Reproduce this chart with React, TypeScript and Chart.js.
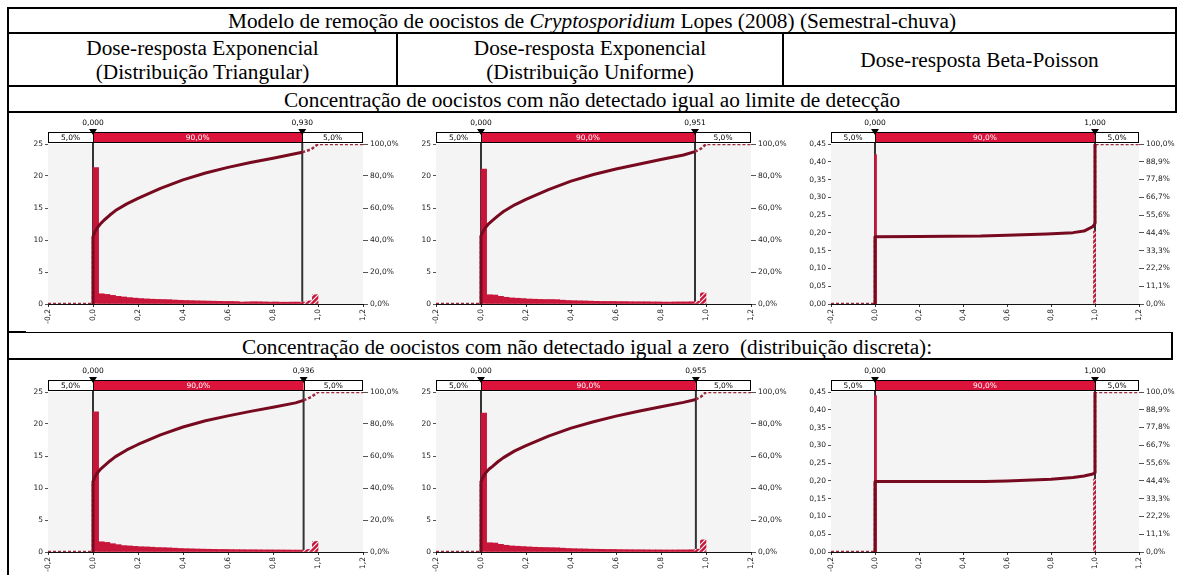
import React, { useEffect, useRef } from 'react';
import { Chart, registerables } from 'chart.js';

Chart.register(...registerables);

// ---------- shared axis values ----------
const X_TICKS = [-0.2, 0, 0.2, 0.4, 0.6, 0.8, 1.0, 1.2];
const Y_TICKS_EXP = [0, 5, 10, 15, 20, 25];
const Y2_TICKS_EXP = [0, 20, 40, 60, 80, 100];
const Y_TICKS_BP = [0, 0.05, 0.1, 0.15, 0.2, 0.25, 0.3, 0.35, 0.4, 0.45];
const Y2_TICKS_BP = [0, 11.1, 22.2, 33.3, 44.4, 55.6, 66.7, 77.8, 88.9, 100];

// histogram bin centres (bin width 0.025)
const BIN_X = [
  0.0125, 0.0375, 0.0625, 0.0875, 0.1125, 0.1375, 0.1625, 0.1875, 0.2125, 0.2375,
  0.2625, 0.2875, 0.3125, 0.3375, 0.3625, 0.3875, 0.4125, 0.4375, 0.4625, 0.4875,
  0.5125, 0.5375, 0.5625, 0.5875, 0.6125, 0.6375, 0.6625, 0.6875, 0.7125, 0.7375,
  0.7625, 0.7875, 0.8125, 0.8375, 0.8625, 0.8875, 0.9125, 0.9375, 0.9625, 0.9875,
];
const BIN_X_BP = [0.0025, 0.9975];

// ---------- histogram values ----------
const HIST_TRI_LD = [
  21.3, 1.6, 1.5, 1.35, 1.2, 1.1, 1.0, 0.92, 0.85, 0.8,
  0.75, 0.72, 0.7, 0.68, 0.62, 0.58, 0.55, 0.53, 0.5, 0.48,
  0.46, 0.44, 0.42, 0.4, 0.4, 0.38, 0.3, 0.33, 0.36, 0.35,
  0.33, 0.3, 0.32, 0.28, 0.28, 0.3, 0.3, 0.3, 0.5, 1.45,
];
const HIST_UNI_LD = [
  21.1, 1.45, 1.4, 1.2, 1.05, 0.95, 0.9, 0.85, 0.78, 0.75,
  0.72, 0.7, 0.7, 0.68, 0.6, 0.55, 0.52, 0.5, 0.48, 0.45,
  0.42, 0.4, 0.4, 0.4, 0.38, 0.38, 0.36, 0.35, 0.35, 0.35,
  0.33, 0.33, 0.3, 0.3, 0.32, 0.33, 0.33, 0.35, 0.45, 1.75,
];
const HIST_BP_LD = [0.42, 0.205];
const HIST_TRI_ZERO = [
  21.9, 1.6, 1.5, 1.3, 1.15, 1.0, 0.95, 0.88, 0.82, 0.8,
  0.75, 0.7, 0.68, 0.65, 0.6, 0.55, 0.52, 0.5, 0.47, 0.45,
  0.43, 0.42, 0.4, 0.4, 0.38, 0.37, 0.36, 0.35, 0.35, 0.34,
  0.33, 0.33, 0.32, 0.32, 0.31, 0.3, 0.3, 0.3, 0.4, 1.65,
];
const HIST_UNI_ZERO = [
  21.7, 1.45, 1.4, 1.2, 1.05, 0.95, 0.9, 0.85, 0.8, 0.75,
  0.72, 0.7, 0.68, 0.66, 0.6, 0.55, 0.52, 0.5, 0.48, 0.45,
  0.43, 0.42, 0.4, 0.4, 0.38, 0.37, 0.36, 0.35, 0.35, 0.34,
  0.33, 0.33, 0.32, 0.32, 0.32, 0.33, 0.33, 0.35, 0.45, 1.9,
];
const HIST_BP_ZERO = [0.44, 0.205];

// ---------- cumulative curves (percent) ----------
const CUM_TRI_LD_X = [-0.2, 0, 0, 0.01, 0.02, 0.035, 0.05, 0.075, 0.1, 0.15, 0.2, 0.3, 0.4, 0.5, 0.6, 0.7, 0.8, 0.93, 0.97, 1.0, 1.2];
const CUM_TRI_LD_Y = [0, 0, 42, 45.5, 47.8, 50.4, 52.5, 55.6, 58.4, 62.6, 66, 72.3, 77.6, 81.9, 85.4, 88.4, 91.1, 94.8, 96.7, 100, 100];
const CUM_UNI_LD_X = [-0.2, 0, 0, 0.01, 0.02, 0.035, 0.05, 0.075, 0.1, 0.15, 0.2, 0.3, 0.4, 0.5, 0.6, 0.7, 0.8, 0.9, 0.951, 0.98, 1.0, 1.2];
const CUM_UNI_LD_Y = [0, 0, 42.5, 45.6, 47.8, 50.3, 52.1, 55.1, 57.8, 62, 65.4, 71.5, 76.8, 80.9, 84.4, 87.4, 90.3, 93.1, 95.2, 97.3, 100, 100];
const CUM_BP_LD_X = [-0.2, 0, 0, 0.2, 0.48, 0.6, 0.78, 0.9, 0.95, 0.99, 1.0, 1.0, 1.2];
const CUM_BP_LD_Y = [0, 0, 42.1, 42.2, 42.5, 43, 43.75, 44.6, 45.6, 48.3, 50.4, 100, 100];
const CUM_TRI_ZERO_X = [-0.2, 0, 0, 0.01, 0.02, 0.035, 0.05, 0.075, 0.1, 0.15, 0.2, 0.3, 0.4, 0.5, 0.6, 0.7, 0.8, 0.9, 0.936, 0.97, 1.0, 1.2];
const CUM_TRI_ZERO_Y = [0, 0, 44, 47.3, 49.6, 52, 53.8, 56.9, 59.6, 63.8, 67.2, 73.2, 78.1, 82, 85.1, 87.9, 90.5, 93.2, 94.8, 96.9, 100, 100];
const CUM_UNI_ZERO_X = [-0.2, 0, 0, 0.01, 0.02, 0.035, 0.05, 0.075, 0.1, 0.15, 0.2, 0.3, 0.4, 0.5, 0.6, 0.7, 0.8, 0.9, 0.955, 0.98, 1.0, 1.2];
const CUM_UNI_ZERO_Y = [0, 0, 44, 47.1, 49.3, 51.7, 53.4, 56.4, 59, 63.2, 66.5, 72.4, 77.4, 81.4, 84.9, 88, 90.8, 93.5, 95.3, 97.3, 100, 100];
const CUM_BP_ZERO_X = [-0.2, 0, 0, 0.5, 0.6, 0.8, 0.9, 0.95, 0.99, 1.0, 1.0, 1.2];
const CUM_BP_ZERO_Y = [0, 0, 44, 44, 44.4, 45.4, 46.5, 47.5, 48.8, 49.5, 100, 100];

// ---------- delimiters (5% / 95%) ----------
const P5 = [0.0, 0.0, 0.0, 0.0, 0.0, 0.0];
const P95 = [0.93, 0.951, 1.0, 0.936, 0.955, 1.0];
const DELIM_TEXT = ['5,0%', '90,0%', '5,0%'];

// ---------- styles ----------
const PLOT_BG = '#f4f4f4';
const BAR_RED = '#c8163a';
const DELIM_RED = '#dc143c';
const CUM_DARK = '#780a20';
const CUM_TAIL = '#9c2a3e';
const CHART_FONT = "'DejaVu Sans', Verdana, sans-serif";
const SERIF = "'Liberation Serif', 'Times New Roman', serif";

function fmtComma(v: number, d: number) {
  return v.toFixed(d).replace('.', ',');
}

function makeHatch(): CanvasPattern | string {
  const c = document.createElement('canvas');
  c.width = 5;
  c.height = 5;
  const g = c.getContext('2d');
  if (!g) return BAR_RED;
  g.fillStyle = BAR_RED;
  g.fillRect(0, 0, 5, 5);
  g.strokeStyle = '#ffffff';
  g.lineWidth = 1.1;
  g.beginPath();
  g.moveTo(0, 5); g.lineTo(5, 0);
  g.moveTo(-1, 1); g.lineTo(1, -1);
  g.moveTo(4, 6); g.lineTo(6, 4);
  g.stroke();
  return g.createPattern(c, 'repeat') || BAR_RED;
}

type Cfg = {
  left: number; top: number; width: number; height: number;
  yW: number; y2W: number; padTop: number; xH: number;
  binX: number[]; hist: number[]; cumX: number[]; cumY: number[];
  p5: number; p95: number; bp: boolean;
};

function RiskChart({ cfg }: { cfg: Cfg }) {
  const ref = useRef<HTMLCanvasElement | null>(null);
  useEffect(() => {
    const canvas = ref.current;
    if (!canvas) return;
    const hatch = makeHatch();
    const bars = cfg.binX.map((x, i) => ({ x, y: cfg.hist[i] }));
    const colors = cfg.binX.map((x) => (x >= cfg.p95 - 0.005 ? hatch : BAR_RED));
    const pts = cfg.cumX.map((x, i) => ({ x, y: cfg.cumY[i] }));
    const leftPts = pts.filter((p) => p.x <= cfg.p5);
    const midPts = pts.filter((p) => p.x >= cfg.p5 && p.x <= cfg.p95);
    const rightPts = pts.filter((p) => p.x >= cfg.p95);
    const font = { family: CHART_FONT, size: 7.5 };
    const yTicks = cfg.bp ? Y_TICKS_BP : Y_TICKS_EXP;
    const y2Ticks = cfg.bp ? Y2_TICKS_BP : Y2_TICKS_EXP;

    const riskPlugin = {
      id: 'riskDecor',
      beforeDraw(chart: any) {
        const { ctx, chartArea: a } = chart;
        ctx.save();
        ctx.fillStyle = PLOT_BG;
        ctx.fillRect(a.left, a.top, a.right - a.left, a.bottom - a.top);
        ctx.restore();
      },
      beforeDatasetsDraw(chart: any) {
        const { ctx, chartArea: a, scales } = chart;
        ctx.save();
        ctx.strokeStyle = '#333333';
        ctx.lineWidth = 2;
        [cfg.p5, cfg.p95].forEach((p) => {
          const x = scales.x.getPixelForValue(p);
          ctx.beginPath();
          ctx.moveTo(x, a.top - 12);
          ctx.lineTo(x, a.bottom);
          ctx.stroke();
        });
        ctx.restore();
      },
      afterDraw(chart: any) {
        const { ctx, chartArea: a, scales } = chart;
        const x5 = scales.x.getPixelForValue(cfg.p5);
        const x95 = scales.x.getPixelForValue(cfg.p95);
        const y0 = a.top - 12;
        const h = 11;
        ctx.save();
        ctx.fillStyle = '#ffffff';
        ctx.fillRect(a.left, y0, a.right - a.left, h);
        ctx.fillStyle = DELIM_RED;
        ctx.fillRect(x5, y0, x95 - x5, h);
        ctx.strokeStyle = '#000000';
        ctx.lineWidth = 1;
        ctx.strokeRect(Math.round(a.left) + 0.5, y0 + 0.5, Math.round(a.right - a.left) - 1, h - 1);
        ctx.beginPath();
        ctx.moveTo(Math.round(x5) + 0.5, y0); ctx.lineTo(Math.round(x5) + 0.5, y0 + h);
        ctx.moveTo(Math.round(x95) + 0.5, y0); ctx.lineTo(Math.round(x95) + 0.5, y0 + h);
        ctx.stroke();
        ctx.font = `7.5px ${CHART_FONT}`;
        ctx.textAlign = 'center';
        ctx.textBaseline = 'middle';
        ctx.fillStyle = '#000000';
        ctx.fillText(DELIM_TEXT[0], (a.left + x5) / 2, y0 + h / 2 + 0.5);
        ctx.fillText(DELIM_TEXT[2], (x95 + a.right) / 2, y0 + h / 2 + 0.5);
        ctx.fillStyle = '#ffffff';
        ctx.fillText(DELIM_TEXT[1], (x5 + x95) / 2, y0 + h / 2 + 0.5);
        // markers
        ctx.fillStyle = '#000000';
        [
          [x5, cfg.p5],
          [x95, cfg.p95],
        ].forEach(([x, p]) => {
          ctx.beginPath();
          ctx.moveTo(x - 4, y0 - 3);
          ctx.lineTo(x + 4, y0 - 3);
          ctx.lineTo(x, y0 + 3);
          ctx.closePath();
          ctx.fill();
          ctx.fillText(fmtComma(p, 3), x, y0 - 9);
        });
        ctx.restore();
      },
    };

    const chart = new Chart(canvas, {
      type: 'bar',
      data: {
        datasets: [
          {
            type: 'line', data: midPts, yAxisID: 'y2', borderColor: CUM_DARK, borderWidth: 3,
            pointRadius: 0, tension: 0, order: 0, borderJoinStyle: 'round',
          } as any,
          {
            type: 'line', data: rightPts, yAxisID: 'y2', borderColor: CUM_TAIL, borderWidth: 2.5,
            borderDash: [3, 2], pointRadius: 0, tension: 0, order: 1,
          } as any,
          {
            type: 'line', data: leftPts, yAxisID: 'y2', borderColor: CUM_TAIL, borderWidth: 2.5,
            borderDash: [3, 2], pointRadius: 0, tension: 0, order: 1,
          } as any,
          {
            type: 'bar', data: bars, yAxisID: 'y', backgroundColor: colors,
            barPercentage: 1, categoryPercentage: 1, borderWidth: 0, order: 2,
            ...(cfg.bp ? { barThickness: 2 } : {}),
          } as any,
        ],
      },
      options: {
        responsive: false,
        animation: false,
        devicePixelRatio: 1,
        layout: { padding: { top: cfg.padTop, left: 0, right: 0, bottom: 0 } },
        plugins: { legend: { display: false }, tooltip: { enabled: false } },
        scales: {
          x: {
            type: 'linear', min: -0.2, max: 1.2, offset: false,
            afterBuildTicks: (s: any) => { s.ticks = X_TICKS.map((v) => ({ value: v })); },
            afterFit: (s: any) => { s.height = cfg.xH; },
            grid: { display: true, drawOnChartArea: false, tickLength: 3, color: '#333', offset: false },
            border: { display: true, color: '#111', width: 1 },
            ticks: {
              autoSkip: false, minRotation: 90, maxRotation: 90, padding: 2, font, color: '#222',
              callback: (v: any) => fmtComma(Number(v), 1),
            },
          },
          y: {
            position: 'left', min: 0, max: cfg.bp ? 0.45 : 25,
            afterBuildTicks: (s: any) => { s.ticks = yTicks.map((v) => ({ value: v })); },
            afterFit: (s: any) => { s.width = cfg.yW; },
            grid: { display: true, drawOnChartArea: false, tickLength: 3, color: '#555' },
            border: { display: false },
            ticks: {
              padding: 2, font, color: '#222',
              callback: (v: any) => (cfg.bp ? fmtComma(Number(v), 2) : String(Math.round(Number(v)))),
            },
          },
          y2: {
            position: 'right', min: 0, max: 100,
            afterBuildTicks: (s: any) => { s.ticks = y2Ticks.map((v) => ({ value: v })); },
            afterFit: (s: any) => { s.width = cfg.y2W; },
            grid: { display: true, drawOnChartArea: false, tickLength: 5, color: '#555' },
            border: { display: false },
            ticks: {
              padding: 2, font, color: '#222',
              callback: (v: any) => fmtComma(Number(v), 1) + '%',
            },
          },
        },
      } as any,
      plugins: [riskPlugin],
    });
    return () => chart.destroy();
  }, [cfg]);
  return (
    <canvas
      ref={ref}
      width={cfg.width}
      height={cfg.height}
      style={{ position: 'absolute', left: cfg.left, top: cfg.top, width: cfg.width, height: cfg.height, display: 'block' }}
    />
  );
}

const TOP_ROW = { top: 113, height: 217, padTop: 31, xH: 26 };
const BOT_ROW = { top: 360, height: 215, padTop: 32, xH: 23 };
const COLS = [
  { left: 10, width: 390, yW: 38, y2W: 37 },
  { left: 400, width: 390, yW: 36, y2W: 39 },
  { left: 790, width: 394, yW: 41, y2W: 45 },
];

const CHARTS: Cfg[] = [
  { ...TOP_ROW, ...COLS[0], binX: BIN_X, hist: HIST_TRI_LD, cumX: CUM_TRI_LD_X, cumY: CUM_TRI_LD_Y, p5: P5[0], p95: P95[0], bp: false },
  { ...TOP_ROW, ...COLS[1], binX: BIN_X, hist: HIST_UNI_LD, cumX: CUM_UNI_LD_X, cumY: CUM_UNI_LD_Y, p5: P5[1], p95: P95[1], bp: false },
  { ...TOP_ROW, ...COLS[2], binX: BIN_X_BP, hist: HIST_BP_LD, cumX: CUM_BP_LD_X, cumY: CUM_BP_LD_Y, p5: P5[2], p95: P95[2], bp: true },
  { ...BOT_ROW, ...COLS[0], binX: BIN_X, hist: HIST_TRI_ZERO, cumX: CUM_TRI_ZERO_X, cumY: CUM_TRI_ZERO_Y, p5: P5[3], p95: P95[3], bp: false },
  { ...BOT_ROW, ...COLS[1], binX: BIN_X, hist: HIST_UNI_ZERO, cumX: CUM_UNI_ZERO_X, cumY: CUM_UNI_ZERO_Y, p5: P5[4], p95: P95[4], bp: false },
  { ...BOT_ROW, ...COLS[2], binX: BIN_X_BP, hist: HIST_BP_ZERO, cumX: CUM_BP_ZERO_X, cumY: CUM_BP_ZERO_Y, p5: P5[5], p95: P95[5], bp: true },
];

function Line({ x, y, w, h }: { x: number; y: number; w: number; h: number }) {
  return <div style={{ position: 'absolute', left: x, top: y, width: w, height: h, background: '#000' }} />;
}

const cellText: React.CSSProperties = {
  position: 'absolute',
  display: 'flex',
  flexDirection: 'column',
  alignItems: 'center',
  justifyContent: 'center',
  fontFamily: SERIF,
  fontSize: 21.3,
  lineHeight: '24px',
  color: '#000',
  whiteSpace: 'pre',
};

export default function App() {
  return (
    <div style={{ position: 'fixed', left: 0, top: 0, width: 1184, height: 575, background: '#fff', overflow: 'hidden' }}>
      {/* table text */}
      <div style={{ ...cellText, left: 8, top: 9, width: 1168, height: 24 }}>
        <span>Modelo de remoção de oocistos de <i>Cryptosporidium</i> Lopes (2008) (Semestral-chuva)</span>
      </div>
      <div style={{ ...cellText, left: 8, top: 34, width: 389, height: 52 }}>
        <span>Dose-resposta Exponencial</span>
        <span>(Distribuição Triangular)</span>
      </div>
      <div style={{ ...cellText, left: 397, top: 34, width: 386, height: 52 }}>
        <span>Dose-resposta Exponencial</span>
        <span>(Distribuição Uniforme)</span>
      </div>
      <div style={{ ...cellText, left: 783, top: 34, width: 393, height: 52 }}>
        <span>Dose-resposta Beta-Poisson</span>
      </div>
      <div style={{ ...cellText, left: 8, top: 87, width: 1168, height: 25 }}>
        <span>Concentração de oocistos com não detectado igual ao limite de detecção</span>
      </div>
      <div style={{ ...cellText, alignItems: 'flex-start', left: 242, top: 334, width: 920, height: 25 }}>
        <span>Concentração de oocistos com não detectado igual a zero  (distribuição discreta):</span>
      </div>

      {/* table borders */}
      <Line x={7} y={7} w={1170} h={2} />
      <Line x={7} y={32} w={1170} h={2} />
      <Line x={7} y={85} w={1170} h={2} />
      <Line x={7} y={111} w={1170} h={2} />
      <Line x={7} y={7} w={2} h={568} />
      <Line x={1175} y={7} w={2} h={106} />
      <Line x={396} y={32} w={2} h={54} />
      <Line x={782} y={32} w={2} h={54} />
      <Line x={7} y={332} w={1166} h={1} />
      <Line x={7} y={331} w={19} h={2} />
      <Line x={7} y={358} w={1166} h={2} />
      <Line x={1171} y={332} w={2} h={28} />

      {CHARTS.map((c, i) => (
        <RiskChart key={i} cfg={c} />
      ))}
    </div>
  );
}
